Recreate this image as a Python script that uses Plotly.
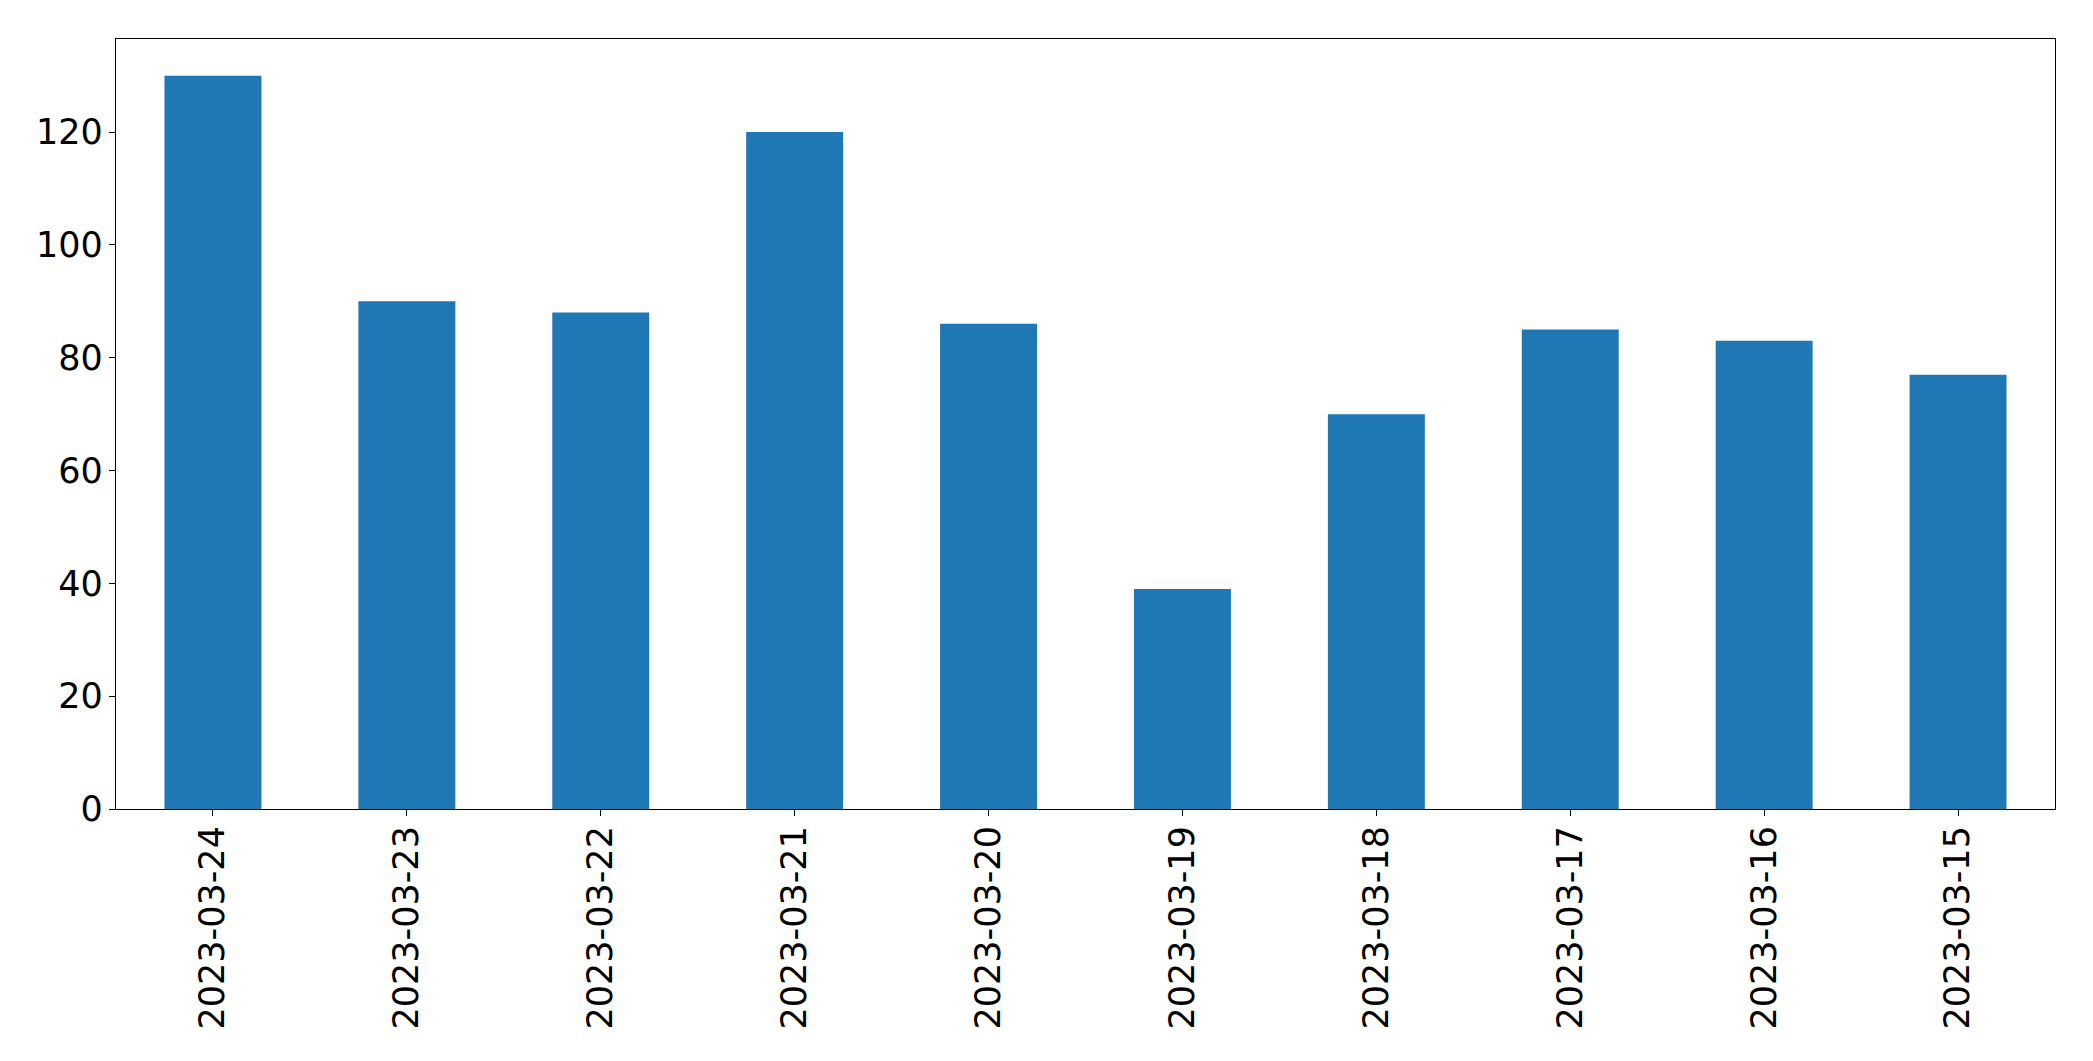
import plotly.graph_objects as go

dates = ["2023-03-24", "2023-03-23", "2023-03-22", "2023-03-21", "2023-03-20",
         "2023-03-19", "2023-03-18", "2023-03-17", "2023-03-16", "2023-03-15"]
values = [130, 90, 88, 120, 86, 39, 70, 85, 83, 77]
y_ticks = [0, 20, 40, 60, 80, 100, 120]

fig = go.Figure(go.Bar(
    x=list(range(len(dates))), y=values,
    width=0.5, marker=dict(color="#1f77b4", line=dict(width=0)),
))

font = dict(family="DejaVu Sans", size=35, color="black")
fig.update_layout(
    width=2093, height=1061,
    margin=dict(l=116, r=38, t=39, b=252),
    paper_bgcolor="white", plot_bgcolor="white",
    showlegend=False, font=font,
)
fig.update_xaxes(
    range=[-0.5, len(dates) - 0.5],
    tickmode="array", tickvals=list(range(len(dates))), ticktext=dates,
    tickangle=-90, ticks="outside", ticklen=6, tickwidth=1.2, tickcolor="black",
    showline=True, linecolor="black", linewidth=1.2, mirror=True,
    showgrid=False, zeroline=False, tickfont=font, ticklabelstandoff=-4,
)
fig.update_yaxes(
    range=[0, 136.5],
    tickmode="array", tickvals=y_ticks, ticktext=[str(v) for v in y_ticks],
    ticks="outside", ticklen=6, tickwidth=1.2, tickcolor="black",
    showline=True, linecolor="black", linewidth=1.2, mirror=True,
    showgrid=False, zeroline=False, tickfont=font, ticklabelstandoff=-1,
)
fig.write_html(
    "out.html",
    config={"displayModeBar": False},
    post_script="document.body.style.margin='0';document.body.style.overflow='hidden';",
)
